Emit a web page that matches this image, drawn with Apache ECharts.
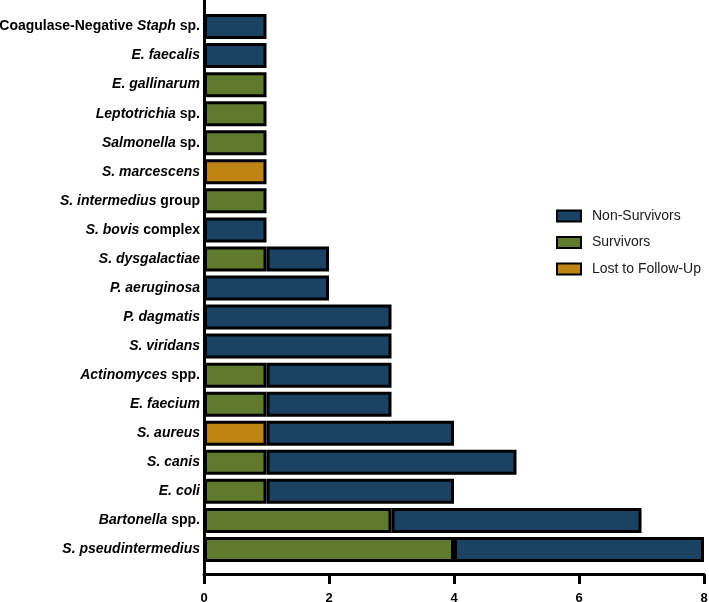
<!DOCTYPE html>
<html>
<head>
<meta charset="utf-8">
<script src="https://cdn.jsdelivr.net/npm/echarts@6/dist/echarts.min.js"></script>
<style>html,body{margin:0;padding:0;background:#fff}#c{width:709px;height:602px}</style>
</head>
<body>
<div id="c"></div>
<script>
// Categories, top to bottom (rich-text markup marks the italic parts)
const categories = [
  'Coagulase-Negative {i|Staph} sp.',
  '{i|E. faecalis}',
  '{i|E. gallinarum}',
  '{i|Leptotrichia} sp.',
  '{i|Salmonella} sp.',
  '{i|S. marcescens}',
  '{i|S. intermedius} group',
  '{i|S. bovis} complex',
  '{i|S. dysgalactiae}',
  '{i|P. aeruginosa}',
  '{i|P. dagmatis}',
  '{i|S. viridans}',
  '{i|Actinomyces} spp.',
  '{i|E. faecium}',
  '{i|S. aureus}',
  '{i|S. canis}',
  '{i|E. coli}',
  '{i|Bartonella} spp.',
  '{i|S. pseudintermedius}'
];
const survivors    = [0,0,1,1,1,0,1,0,1,0,0,0,1,1,0,1,1,3,4];
const lostFollowUp = [0,0,0,0,0,1,0,0,0,0,0,0,0,0,1,0,0,0,0];
const nonSurvivors = [1,1,0,0,0,0,0,1,1,2,3,3,2,2,3,4,3,4,4];
const xTicks = [0, 2, 4, 6, 8];

const toData = arr => arr.map(v => v === 0 ? '-' : v);
const font = '"Liberation Sans", Arial, Helvetica, sans-serif';

const barStyle = c => ({ color: c, borderColor: '#000', borderWidth: 3 });

const chart = echarts.init(document.getElementById('c'));
chart.setOption({
  animation: false,
  textStyle: { fontFamily: font },
  grid: [
    { left: 204, right: 5, top: 12, bottom: 38, containLabel: false, outerBoundsMode: 'none' },
    { left: 204, right: 5, top: 0, bottom: 28, containLabel: false, outerBoundsMode: 'none' }
  ],
  legend: {
    orient: 'vertical',
    left: 551,
    top: 204,
    icon: 'rect',
    itemWidth: 24,
    itemHeight: 11,
    itemGap: 12.5,
    data: ['Non-Survivors', 'Survivors', 'Lost to Follow-Up'],
    textStyle: { fontFamily: font, fontSize: 14, color: '#1a1a1a', padding: [0, 0, 0, 6] }
  },
  xAxis: [
    {
      gridIndex: 0, type: 'value', min: xTicks[0], max: xTicks[xTicks.length - 1], interval: 2,
      position: 'bottom', offset: 10,
      axisLine: { show: true, lineStyle: { color: '#000', width: 3 } },
      axisTick: { show: true, length: 10, lineStyle: { color: '#000', width: 3 } },
      axisLabel: { margin: 18, color: '#000', fontWeight: 'bold', fontSize: 13, fontFamily: font },
      splitLine: { show: false }
    },
    { gridIndex: 1, type: 'value', show: false, min: 0, max: 8 }
  ],
  yAxis: [
    {
      gridIndex: 0, type: 'category', data: categories, inverse: true,
      axisLine: { show: false }, axisTick: { show: false },
      axisLabel: {
        margin: 4, color: '#000', fontWeight: 'bold', fontSize: 14, fontFamily: font,
        formatter: v => v,
        rich: { i: { fontStyle: 'italic', fontWeight: 'bold', fontSize: 14, color: '#000', fontFamily: font } }
      }
    },
    {
      gridIndex: 1, type: 'value', min: 0, max: 1,
      axisLine: { show: true, lineStyle: { color: '#000', width: 3 } },
      axisTick: { show: false }, axisLabel: { show: false }, splitLine: { show: false }
    }
  ],
  series: [
    { name: 'Survivors', type: 'bar', stack: 'a', barWidth: 25, xAxisIndex: 0, yAxisIndex: 0,
      itemStyle: barStyle('#5f7a2c'), data: toData(survivors) },
    { name: 'Lost to Follow-Up', type: 'bar', stack: 'a', barWidth: 25, xAxisIndex: 0, yAxisIndex: 0,
      itemStyle: barStyle('#bf8414'), data: toData(lostFollowUp) },
    { name: 'Non-Survivors', type: 'bar', stack: 'a', barWidth: 25, xAxisIndex: 0, yAxisIndex: 0,
      itemStyle: barStyle('#1b4163'), data: toData(nonSurvivors) }
  ]
});
</script>
</body>
</html>
